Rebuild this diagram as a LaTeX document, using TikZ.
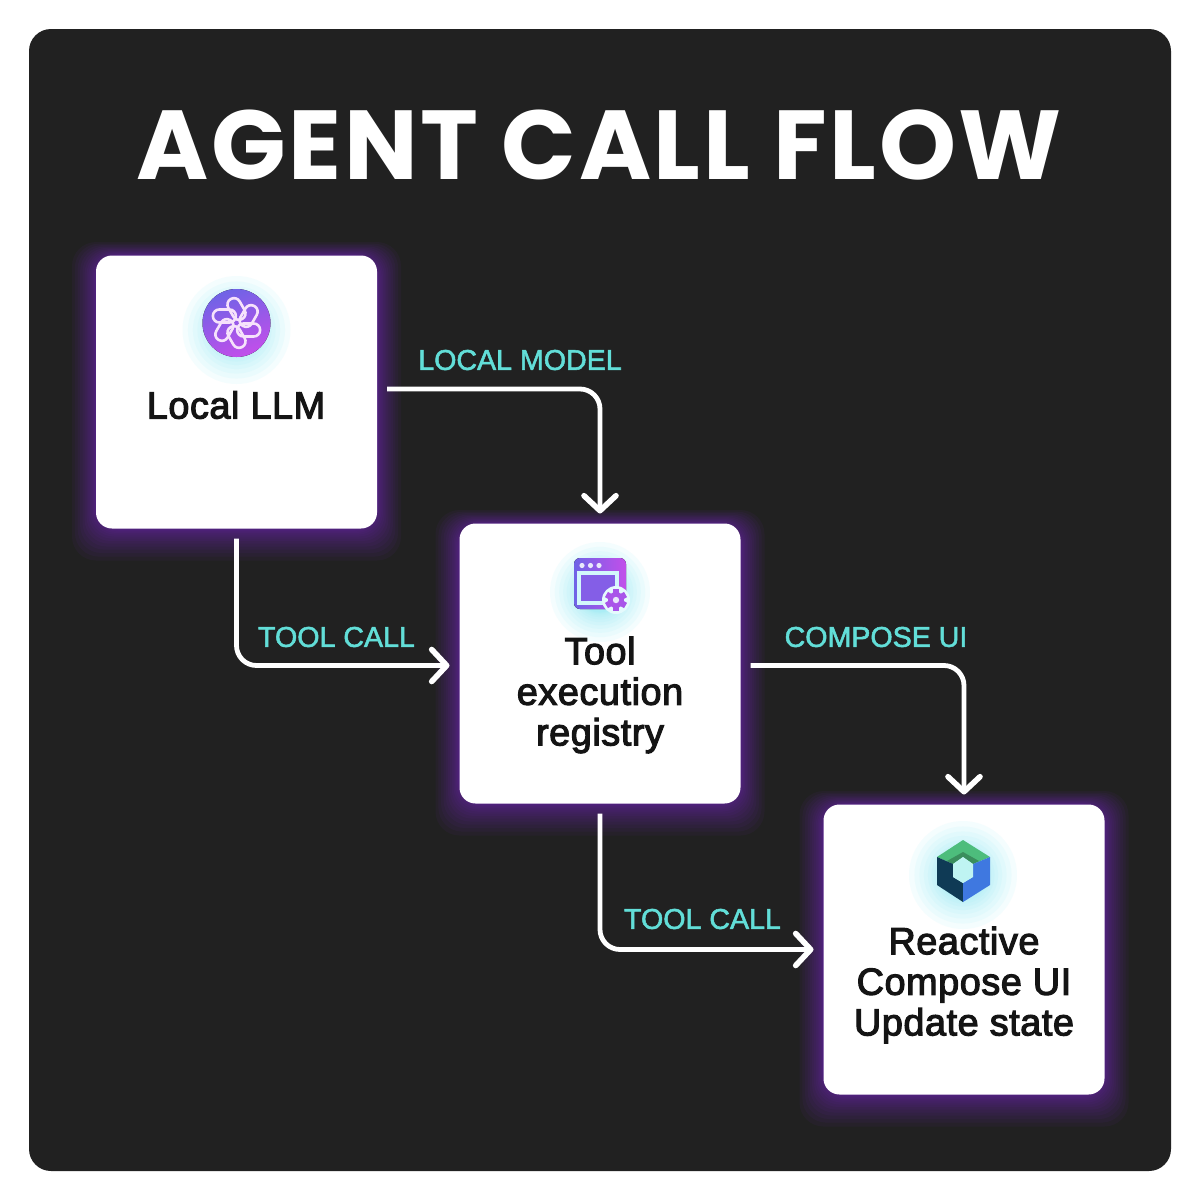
\documentclass[tikz,border=0pt]{standalone}
\usepackage{fontspec}
\usetikzlibrary{arrows.meta}
\newfontfamily\titlefont[LetterSpace=2.7]{Poppins}
\newfontfamily\cardfont[FakeBold=3,LetterSpace=1.5]{Liberation Sans}
\newfontfamily\labelfont[FakeBold=1.8]{Liberation Sans}
\definecolor{panel}{HTML}{212121}
\definecolor{glowp}{HTML}{7A22C8}
\definecolor{teal}{HTML}{62DED8}
\definecolor{halo}{HTML}{7FE8F5}
\definecolor{pa}{HTML}{6F63E6}
\definecolor{pb}{HTML}{C24FEA}
\definecolor{knot}{HTML}{F6E2FB}
\definecolor{hexgreen}{HTML}{4DBD7C}
\definecolor{hexnavy}{HTML}{0F3A55}
\definecolor{hexblue}{HTML}{3F78E0}
\definecolor{hexhole}{HTML}{BFF4F2}
\tikzset{
  x=0.5pt,y=-0.5pt,
  card/.style={fill=white,draw=none,rounded corners=8pt,outer sep=5pt,inner sep=0pt},
  cardtext/.style={font=\cardfont\fontsize{18.9}{20.3}\selectfont,text=black!92,align=center,inner sep=0pt},
  flowlabel/.style={font=\labelfont\fontsize{14.3}{16}\selectfont,text=teal,inner sep=0pt},
  flow/.style={draw=white,line width=2.4pt,rounded corners=10pt,-{Straight Barb[length=7.5pt,width=16pt,line width=2.8pt,round]}},
}
% glowing card: name, cx, cy, w, h
\newcommand{\glowcard}[5]{%
  \foreach \n in {16,15,...,1}{%
    \pgfmathsetmacro{\r}{\n*\n*0.125}
    \fill[glowp,opacity=0.06,rounded corners=12pt]
      ({#2-#4/2-\r*0.75},{#3-#5/2-\r*0.42}) rectangle ({#2+#4/2+\r*0.75},{#3+#5/2+\r});
  }%
  \node[card,minimum width=#4*0.5pt,minimum height=#5*0.5pt] (#1) at (#2,#3) {};
}
\newcommand{\iconhalo}[3]{%
  \foreach \n in {12,11,...,1}{%
    \fill[halo,opacity=0.08] (#1,{#2+7}) circle[radius={20+(#3-20)*\n*\n/144}];
  }%
}
\begin{document}
\begin{tikzpicture}
\useasboundingbox (0,0) rectangle (1200,1200);
\fill[white] (0,0) rectangle (1200,1200);
\fill[panel,rounded corners=11pt] (29,29) rectangle (1171,1171);

\node[inner sep=0pt,text=white,font=\titlefont\bfseries\fontsize{49}{60}\selectfont] (title) at (599,145) {AGENT CALL FLOW};

\glowcard{llm}{236.5}{392}{281}{273}
\glowcard{tool}{600}{663.5}{281}{280}
\glowcard{compose}{964}{949.5}{281}{290}

% icon 1
\iconhalo{236.5}{323}{54}
\fill[left color=pa,right color=pb,shading angle=20] (236.5,323) circle[radius=34];
\begin{scope}[shift={(236.5,323)}]
  \foreach \a in {0,60,...,300}{%
    \begin{scope}[rotate=\a]
      \draw[knot,line width=1.3pt,rounded corners=3.2pt,rotate around={30:(0,-14)}]
        (-6.5,-25.5) rectangle (6.5,-2.5);
    \end{scope}
  }
\end{scope}

% icon 2
\iconhalo{600}{585}{50}
\fill[left color=pa,right color=pb,rounded corners=3pt] (574,558) rectangle (626,609);
\foreach \dx in {582,590.5,599}{\fill[white!85!pa] (\dx,565.5) circle[radius=2.6];}
\draw[white!65!halo,line width=1.6pt,fill=pa!75!pb] (579,573) rectangle (617,603);
\fill[white!80!halo] (616,600) circle[radius=14];
\begin{scope}[shift={(616,600)}]
  \foreach \a in {0,60,...,300}{\fill[pb!70!pa,rotate=\a] (-3,-11) rectangle (3,-6);}
  \fill[pb!70!pa] (0,0) circle[radius=8];
  \fill[white!85!pa] (0,0) circle[radius=3.2];
\end{scope}

% icon 3
\iconhalo{963}{868}{54}
\fill[hexgreen] (963,840) -- (990,857) -- (973,864) -- (963,857) -- (953,864) -- (937,857) -- cycle;
\fill[hexgreen!75!black] (963,852) -- (979,861) -- (973,864) -- (963,857) -- (953,864) -- (947,861) -- cycle;
\fill[hexnavy] (937,857) -- (953,864) -- (953,877) -- (963,883) -- (963,902) -- (937,885) -- cycle;
\fill[hexblue] (990,857) -- (973,864) -- (973,877) -- (963,883) -- (963,902) -- (990,885) -- cycle;
\fill[hexhole] (963,857) -- (973,864) -- (973,877) -- (963,883) -- (953,877) -- (953,864) -- cycle;

% card texts
\node[cardtext] (llmtext) at (236,405) {Local LLM};
\node[cardtext] (tooltext) at (600,695) {Tool\\execution\\registry};
\node[cardtext] (composetext) at (964,985) {Reactive\\Compose UI\\Update state};

% connectors
\draw[flow] ([yshift=1.5pt]llm.east) -| (tool.north);
\draw[flow] (llm.south) |- ([yshift=-1pt]tool.west);
\draw[flow] ([yshift=-1pt]tool.east) -| (compose.north);
\draw[flow] (tool.south) |- (compose.west);

% connector labels
\node[flowlabel] (l1) at (520,360) {LOCAL MODEL};
\node[flowlabel] (l2) at (336.5,637) {TOOL CALL};
\node[flowlabel] (l3) at (876,637) {COMPOSE UI};
\node[flowlabel] (l4) at (702.5,919) {TOOL CALL};
\end{tikzpicture}
\end{document}
